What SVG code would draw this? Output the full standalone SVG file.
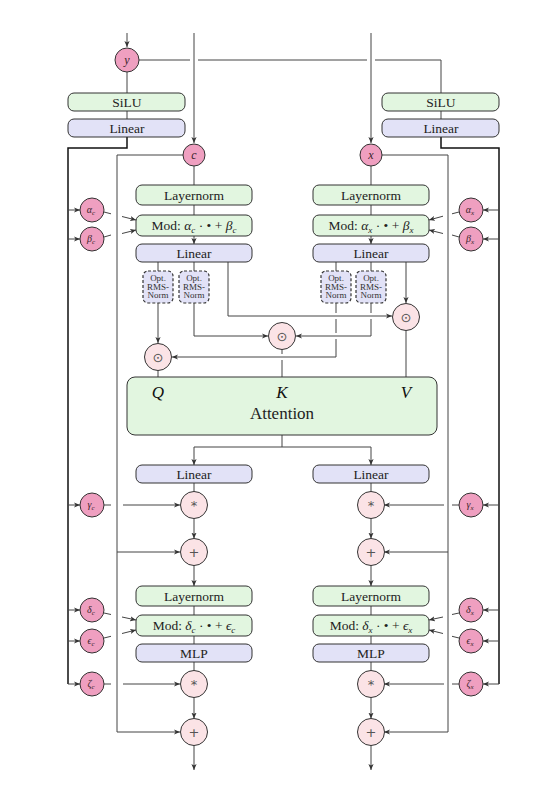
<svg xmlns="http://www.w3.org/2000/svg" width="557" height="795" viewBox="0 0 557 795">
<defs>
<marker id="ar" markerWidth="7" markerHeight="6" refX="6" refY="3" orient="auto" markerUnits="userSpaceOnUse">
<path d="M0,0.4 L6,3 L0,5.6 L1.6,3 z" fill="#333"/>
</marker>
<style>
.ln{stroke:#444;stroke-width:1;fill:none}
.ol{stroke:#111;stroke-width:1.5;fill:none}
.a{marker-end:url(#ar)}
.pk{fill:#ef9fc0;stroke:#333;stroke-width:1}
.op{fill:#fbe3e6;stroke:#333;stroke-width:1}
.gb{fill:#e2f6e0;stroke:#333;stroke-width:1}
.lb{fill:#e2e2f7;stroke:#333;stroke-width:1}
.db{fill:#e2e2f7;stroke:#333;stroke-width:1.2;stroke-dasharray:3,2}
.t{font-family:"Liberation Serif",serif;font-size:13.5px;text-anchor:middle;fill:#222}
.s{font-family:"Liberation Serif",serif;font-size:9px;text-anchor:middle;fill:#333}
.ci{font-family:"Liberation Serif",serif;font-style:italic;font-size:12px;text-anchor:middle;fill:#3a1f2a}
.cs{font-family:"Liberation Serif",serif;font-style:italic;font-size:10px;text-anchor:middle;fill:#3a1f2a}
.o{font-family:"DejaVu Sans",sans-serif;font-size:13px;text-anchor:middle;fill:#555}
.qkv{font-family:"Liberation Serif",serif;font-style:italic;font-size:17px;text-anchor:middle;fill:#111}
</style>
</defs>
<rect width="557" height="795" fill="#fff"/>

<g id="connectors">
<path class="ln a" d="M127,33 V47"/>
<path class="ln a" d="M194,33 V143"/>
<path class="ln a" d="M371,33 V143"/>
<path class="ln" d="M139,60 H190 M198,60 H367 M375,60 H441 V93"/>
<path class="ln" d="M127,72 V93 M127,111 V119 M441,111 V119"/>
<path class="ol" d="M127,137 V148 H68 V684"/>
<path class="ol" d="M441,137 V148 H499 V684"/>
<path class="ln" d="M183,155 H117 V732"/>
<path class="ln" d="M382,155 H448 V732"/>
<path class="ln a" d="M117,732 H180"/>
<path class="ln a" d="M117,552 H180"/>
<path class="ln a" d="M448,732 H384"/>
<path class="ln a" d="M448,552 H384"/>
<path class="ln a" d="M68,210 H80"/>
<path class="ln a" d="M68,239 H80"/>
<path class="ln a" d="M68,505 H80"/>
<path class="ln a" d="M68,610 H80"/>
<path class="ln a" d="M68,641 H80"/>
<path class="ln a" d="M68,684 H80"/>
<path class="ln a" d="M499,210 H483"/>
<path class="ln a" d="M499,239 H483"/>
<path class="ln a" d="M499,505 H483"/>
<path class="ln a" d="M499,610 H483"/>
<path class="ln a" d="M499,641 H483"/>
<path class="ln a" d="M499,684 H483"/>
<path class="ln" d="M104,212 L111,213.8"/><path class="ln a" d="M122,216.5 L136,220"/>
<path class="ln" d="M104,237 L111,235"/><path class="ln a" d="M122,233.5 L136,230"/>
<path class="ln" d="M104,505 H111"/><path class="ln a" d="M123,505 H180"/>
<path class="ln" d="M104,613 L111,614.5"/><path class="ln a" d="M122,617 L136,620"/>
<path class="ln" d="M104,638 L111,636.3"/><path class="ln a" d="M122,633.5 L136,630"/>
<path class="ln" d="M104,684 H111"/><path class="ln a" d="M123,684 H180"/>
<path class="ln" d="M459,212 L452,213.8"/><path class="ln a" d="M443,216.2 L429,220"/>
<path class="ln" d="M459,237 L452,235"/><path class="ln a" d="M443,233.5 L429,230"/>
<path class="ln" d="M459,505 H452"/><path class="ln a" d="M444,505 H384"/>
<path class="ln" d="M459,613 L452,614.5"/><path class="ln a" d="M443,617 L429,620"/>
<path class="ln" d="M459,638 L452,636.3"/><path class="ln a" d="M443,633.5 L429,630"/>
<path class="ln" d="M459,684 H452"/><path class="ln a" d="M444,684 H384"/>
<path class="ln" d="M194,166 V185 M194,205 V215 M371,166 V185 M371,205 V215"/>
<path class="ln a" d="M194,236 V244"/>
<path class="ln a" d="M371,236 V244"/>
<path class="ln" d="M158,262 V271 M194,262 V271 M336,262 V271 M371,262 V271"/>
<path class="ln a" d="M228,262 V316 H392"/>
<path class="ln a" d="M406,262 V303"/>
<path class="ln" d="M406,331 V377"/>
<path class="ln a" d="M158,303 V343"/>
<path class="ln a" d="M194,303 V336 H268"/>
<path class="ln" d="M371,303 V313"/><path class="ln a" d="M371,319 V336 H296"/>
<path class="ln" d="M336,303 V313 M336,319 V333"/><path class="ln a" d="M336,339 V357 H172"/>
<path class="ln" d="M282,349.5 V354 M282,360 V377"/>
<path class="ln" d="M158,370.5 V377"/>
<path class="ln" d="M282,435 V447 M194,447 H371"/>
<path class="ln a" d="M194,447 V465"/>
<path class="ln a" d="M371,447 V465"/>
<path class="ln" d="M194,483 V491.5 M371,483 V491.5"/>
<path class="ln a" d="M194,518.5 V538.5"/>
<path class="ln a" d="M371,518.5 V538.5"/>
<path class="ln a" d="M194,565.5 V586"/>
<path class="ln a" d="M371,565.5 V586"/>
<path class="ln" d="M194,606 V615 M194,636 V644 M194,662 V670.5 M371,606 V615 M371,636 V644 M371,662 V670.5"/>
<path class="ln a" d="M194,697.5 V718.5"/>
<path class="ln a" d="M371,697.5 V718.5"/>
<path class="ln a" d="M194,745.5 V770"/>
<path class="ln a" d="M371,745.5 V770"/>
</g>

<g id="n-y"><circle class="pk" cx="127" cy="60" r="12"/><text class="ci" x="127" y="64">y</text></g>
<g id="n-c"><circle class="pk" cx="194" cy="155" r="11"/><text class="ci" x="194" y="158.5">c</text></g>
<g id="n-x"><circle class="pk" cx="371" cy="155" r="11"/><text class="ci" x="371" y="158.5">x</text></g>

<g id="n-silu-l"><rect class="gb" x="68" y="93" width="117" height="18" rx="6"/><text class="t" x="127" y="106.5">SiLU</text></g>
<g id="n-lin-l"><rect class="lb" x="68" y="119" width="117" height="18" rx="6"/><text class="t" x="127" y="132.5">Linear</text></g>
<g id="n-silu-r"><rect class="gb" x="382" y="93" width="117" height="18" rx="6"/><text class="t" x="441" y="106.5">SiLU</text></g>
<g id="n-lin-r"><rect class="lb" x="382" y="119" width="117" height="18" rx="6"/><text class="t" x="441" y="132.5">Linear</text></g>

<g id="n-alpha-c"><circle class="pk" cx="92" cy="210" r="12"/><text class="cs" x="91" y="213">α<tspan font-size="7" dy="2">c</tspan></text></g>
<g id="n-beta-c"><circle class="pk" cx="92" cy="239" r="12"/><text class="cs" x="91" y="242">β<tspan font-size="7" dy="2">c</tspan></text></g>
<g id="n-gamma-c"><circle class="pk" cx="92" cy="505" r="12"/><text class="cs" x="91" y="508">γ<tspan font-size="7" dy="2">c</tspan></text></g>
<g id="n-delta-c"><circle class="pk" cx="92" cy="610" r="12"/><text class="cs" x="91" y="613">δ<tspan font-size="7" dy="2">c</tspan></text></g>
<g id="n-eps-c"><circle class="pk" cx="92" cy="641" r="12"/><text class="cs" x="91" y="644">ϵ<tspan font-size="7" dy="2">c</tspan></text></g>
<g id="n-zeta-c"><circle class="pk" cx="92" cy="684" r="12"/><text class="cs" x="91" y="687">ζ<tspan font-size="7" dy="2">c</tspan></text></g>

<g id="n-alpha-x"><circle class="pk" cx="471" cy="210" r="12"/><text class="cs" x="470" y="213">α<tspan font-size="7" dy="2">x</tspan></text></g>
<g id="n-beta-x"><circle class="pk" cx="471" cy="239" r="12"/><text class="cs" x="470" y="242">β<tspan font-size="7" dy="2">x</tspan></text></g>
<g id="n-gamma-x"><circle class="pk" cx="471" cy="505" r="12"/><text class="cs" x="470" y="508">γ<tspan font-size="7" dy="2">x</tspan></text></g>
<g id="n-delta-x"><circle class="pk" cx="471" cy="610" r="12"/><text class="cs" x="470" y="613">δ<tspan font-size="7" dy="2">x</tspan></text></g>
<g id="n-eps-x"><circle class="pk" cx="471" cy="641" r="12"/><text class="cs" x="470" y="644">ϵ<tspan font-size="7" dy="2">x</tspan></text></g>
<g id="n-zeta-x"><circle class="pk" cx="471" cy="684" r="12"/><text class="cs" x="470" y="687">ζ<tspan font-size="7" dy="2">x</tspan></text></g>

<g id="n-ln1-c"><rect class="gb" x="136" y="185" width="116" height="20" rx="6"/><text class="t" x="194" y="199.5">Layernorm</text></g>
<g id="n-mod1-c"><rect class="gb" x="136" y="215" width="116" height="21" rx="6"/><text class="t" x="194" y="230">Mod: <tspan font-style="italic">α</tspan><tspan font-style="italic" font-size="9" dy="2.5">c</tspan><tspan dy="-2.5"> · • + </tspan><tspan font-style="italic">β</tspan><tspan font-style="italic" font-size="9" dy="2.5">c</tspan></text></g>
<g id="n-lin1-c"><rect class="lb" x="136" y="244" width="116" height="18" rx="6"/><text class="t" x="194" y="257.5">Linear</text></g>
<g id="n-ln1-x"><rect class="gb" x="313" y="185" width="116" height="20" rx="6"/><text class="t" x="371" y="199.5">Layernorm</text></g>
<g id="n-mod1-x"><rect class="gb" x="313" y="215" width="116" height="21" rx="6"/><text class="t" x="371" y="230">Mod: <tspan font-style="italic">α</tspan><tspan font-style="italic" font-size="9" dy="2.5">x</tspan><tspan dy="-2.5"> · • + </tspan><tspan font-style="italic">β</tspan><tspan font-style="italic" font-size="9" dy="2.5">x</tspan></text></g>
<g id="n-lin1-x"><rect class="lb" x="313" y="244" width="116" height="18" rx="6"/><text class="t" x="371" y="257.5">Linear</text></g>

<g id="n-rms1"><rect class="db" x="143" y="271" width="30" height="32" rx="5"/><text class="s" x="158" y="281">Opt.</text><text class="s" x="158" y="289.5">RMS-</text><text class="s" x="158" y="298">Norm</text></g>
<g id="n-rms2"><rect class="db" x="179" y="271" width="30" height="32" rx="5"/><text class="s" x="194" y="281">Opt.</text><text class="s" x="194" y="289.5">RMS-</text><text class="s" x="194" y="298">Norm</text></g>
<g id="n-rms3"><rect class="db" x="321" y="271" width="30" height="32" rx="5"/><text class="s" x="336" y="281">Opt.</text><text class="s" x="336" y="289.5">RMS-</text><text class="s" x="336" y="298">Norm</text></g>
<g id="n-rms4"><rect class="db" x="356" y="271" width="30" height="32" rx="5"/><text class="s" x="371" y="281">Opt.</text><text class="s" x="371" y="289.5">RMS-</text><text class="s" x="371" y="298">Norm</text></g>

<g id="n-catv"><circle class="op" cx="406" cy="317" r="13.5"/><text class="o" x="406" y="321.5">⊙</text></g>
<g id="n-catk"><circle class="op" cx="282" cy="336" r="13.5"/><text class="o" x="282" y="340.5">⊙</text></g>
<g id="n-catq"><circle class="op" cx="158" cy="357" r="13.5"/><text class="o" x="158" y="361.5">⊙</text></g>

<g id="n-attn"><rect class="gb" x="127" y="377" width="310" height="58" rx="8"/>
<text class="qkv" x="158" y="398">Q</text><text class="qkv" x="282" y="398">K</text><text class="qkv" x="406" y="398">V</text>
<text class="t" x="282" y="419" style="font-size:17px">Attention</text></g>

<g id="n-lin2-c"><rect class="lb" x="136" y="465" width="116" height="18" rx="6"/><text class="t" x="194" y="478.5">Linear</text></g>
<g id="n-lin2-x"><rect class="lb" x="313" y="465" width="116" height="18" rx="6"/><text class="t" x="371" y="478.5">Linear</text></g>
<g id="n-mul1-c"><circle class="op" cx="194" cy="505" r="13.5"/><text class="o" x="194" y="510">*</text></g>
<g id="n-mul1-x"><circle class="op" cx="371" cy="505" r="13.5"/><text class="o" x="371" y="510">*</text></g>
<g id="n-add1-c"><circle class="op" cx="194" cy="552" r="13.5"/><text class="o" x="194" y="557">+</text></g>
<g id="n-add1-x"><circle class="op" cx="371" cy="552" r="13.5"/><text class="o" x="371" y="557">+</text></g>

<g id="n-ln2-c"><rect class="gb" x="136" y="586" width="116" height="20" rx="6"/><text class="t" x="194" y="600.5">Layernorm</text></g>
<g id="n-mod2-c"><rect class="gb" x="136" y="615" width="116" height="21" rx="6"/><text class="t" x="194" y="630">Mod: <tspan font-style="italic">δ</tspan><tspan font-style="italic" font-size="9" dy="2.5">c</tspan><tspan dy="-2.5"> · • + </tspan><tspan font-style="italic">ϵ</tspan><tspan font-style="italic" font-size="9" dy="2.5">c</tspan></text></g>
<g id="n-mlp-c"><rect class="lb" x="136" y="644" width="116" height="18" rx="6"/><text class="t" x="194" y="657.5">MLP</text></g>
<g id="n-ln2-x"><rect class="gb" x="313" y="586" width="116" height="20" rx="6"/><text class="t" x="371" y="600.5">Layernorm</text></g>
<g id="n-mod2-x"><rect class="gb" x="313" y="615" width="116" height="21" rx="6"/><text class="t" x="371" y="630">Mod: <tspan font-style="italic">δ</tspan><tspan font-style="italic" font-size="9" dy="2.5">x</tspan><tspan dy="-2.5"> · • + </tspan><tspan font-style="italic">ϵ</tspan><tspan font-style="italic" font-size="9" dy="2.5">x</tspan></text></g>
<g id="n-mlp-x"><rect class="lb" x="313" y="644" width="116" height="18" rx="6"/><text class="t" x="371" y="657.5">MLP</text></g>

<g id="n-mul2-c"><circle class="op" cx="194" cy="684" r="13.5"/><text class="o" x="194" y="689">*</text></g>
<g id="n-mul2-x"><circle class="op" cx="371" cy="684" r="13.5"/><text class="o" x="371" y="689">*</text></g>
<g id="n-add2-c"><circle class="op" cx="194" cy="732" r="13.5"/><text class="o" x="194" y="737">+</text></g>
<g id="n-add2-x"><circle class="op" cx="371" cy="732" r="13.5"/><text class="o" x="371" y="737">+</text></g>
</svg>
